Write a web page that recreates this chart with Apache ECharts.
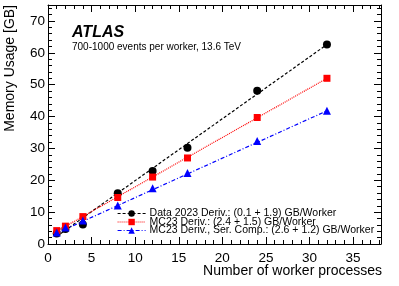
<!DOCTYPE html>
<html><head><meta charset="utf-8">
<script src="https://cdn.jsdelivr.net/npm/echarts@6/dist/echarts.min.js"></script>
<style>html,body{margin:0;padding:0;background:#fff}#c{width:399px;height:286px}</style>
</head><body><div id="c"></div>
<script>
const xVals = [1, 2, 4, 8, 12, 16, 24, 32];
const dataDeriv = [3.3, 4.7, 6.1, 15.9, 22.9, 30.2, 48.1, 62.6];
const mcDeriv = [4.2, 5.6, 8.6, 14.6, 21.0, 27.0, 39.7, 52.0];
const mcSerComp = [3.6, 5.2, 7.4, 12.1, 17.5, 22.3, 32.3, 41.8];
const fitX = [1, 32];
const dataFit = [2.4, 62.6];
const mcFit = [4.0, 52.0];
const serFit = [3.4, 41.8];
const names = [
  'Data 2023 Deriv.: (0.1 + 1.9) GB/Worker',
  'MC23 Deriv.: (2.4 + 1.5) GB/Worker',
  'MC23 Deriv., Ser. Comp.: (2.6 + 1.2) GB/Worker'
];
const colors = ['#000000', '#ff0000', '#0000ff'];
const dashes = [[3, 2], [1, 1], [4, 2, 1, 2]];
const symbols = ['circle', 'rect', 'triangle'];
const sizes = [8, 7, 8];
const pts = [dataDeriv, mcDeriv, mcSerComp];
const fits = [dataFit, mcFit, serFit];

const FONT = 'Liberation Sans, Arial, sans-serif';
const series = [];
for (let i = 0; i < 3; i++) {
  series.push({
    type: 'line', name: names[i] + ' fit', silent: true,
    data: fitX.map((x, j) => [x, fits[i][j]]),
    showSymbol: false, symbol: 'none',
    lineStyle: { color: colors[i], width: 1.2, type: dashes[i] },
    z: 2
  });
}
for (let i = 0; i < 3; i++) {
  series.push({
    type: 'line', name: names[i],
    data: xVals.map((x, j) => [x, pts[i][j]]),
    symbol: symbols[i], symbolSize: sizes[i], showSymbol: true,
    itemStyle: { color: colors[i] },
    lineStyle: { color: colors[i], width: 0, opacity: 0 },
    z: 3
  });
}
const axisCommon = {
  axisLine: { show: true, onZero: false, lineStyle: { color: '#000', width: 1 } },
  axisTick: { show: true, inside: true, length: 7, lineStyle: { color: '#000' } },
  minorTick: { show: true, splitNumber: 5, length: 4, lineStyle: { color: '#000' } },
  splitLine: { show: false },
  minorSplitLine: { show: false }
};
const chart = echarts.init(document.getElementById('c'), null, { renderer: 'canvas' });
chart.setOption({
  animation: false,
  grid: { left: 48, right: 18, top: 5, bottom: 42, containLabel: false },
  xAxis: [
    Object.assign({}, axisCommon, {
      type: 'value', min: 0, max: 38.2, interval: 5, position: 'bottom',
      axisLabel: { show: true, color: '#000', fontSize: 13.5, fontFamily: FONT, margin: 7, showMaxLabel: false }
    }),
    Object.assign({}, axisCommon, {
      type: 'value', min: 0, max: 38.2, interval: 5, position: 'top',
      axisLabel: { show: false }
    })
  ],
  yAxis: [
    Object.assign({}, axisCommon, {
      type: 'value', min: 0, max: 75, interval: 10, position: 'left',
      axisLabel: { show: true, color: '#000', fontSize: 13.5, fontFamily: FONT, margin: 3, showMaxLabel: false }
    }),
    Object.assign({}, axisCommon, {
      type: 'value', min: 0, max: 75, interval: 10, position: 'right',
      axisLabel: { show: false }
    })
  ],
  legend: {
    orient: 'vertical', left: 112, top: 203,
    itemWidth: 28, itemHeight: 8, itemGap: -2.5,
    textStyle: { color: '#000', fontSize: 10.5, fontFamily: FONT, padding: [0, 0, 0, -1] },
    data: names.map((n, i) => ({
      name: n,
      lineStyle: { color: colors[i], width: 1.2, type: dashes[i], opacity: 1 }
    })),
    selectedMode: false
  },
  series: series,
  graphic: [
    { type: 'text', left: 72, top: 25, style: { text: 'ATLAS', font: 'italic bold 16px ' + FONT, fill: '#000' } },
    { type: 'text', left: 72, top: 42, style: { text: '700-1000 events per worker, 13.6 TeV', font: '10px ' + FONT, fill: '#000' } },
    { type: 'text', right: 17, top: 264, style: { text: 'Number of worker processes', font: '14px ' + FONT, fill: '#000' } },
    { type: 'text', x: 3, y: 5, rotation: Math.PI / 2, style: { text: 'Memory Usage [GB]', font: '14px ' + FONT, fill: '#000', align: 'right', verticalAlign: 'top' } }
  ]
});
</script></body></html>
